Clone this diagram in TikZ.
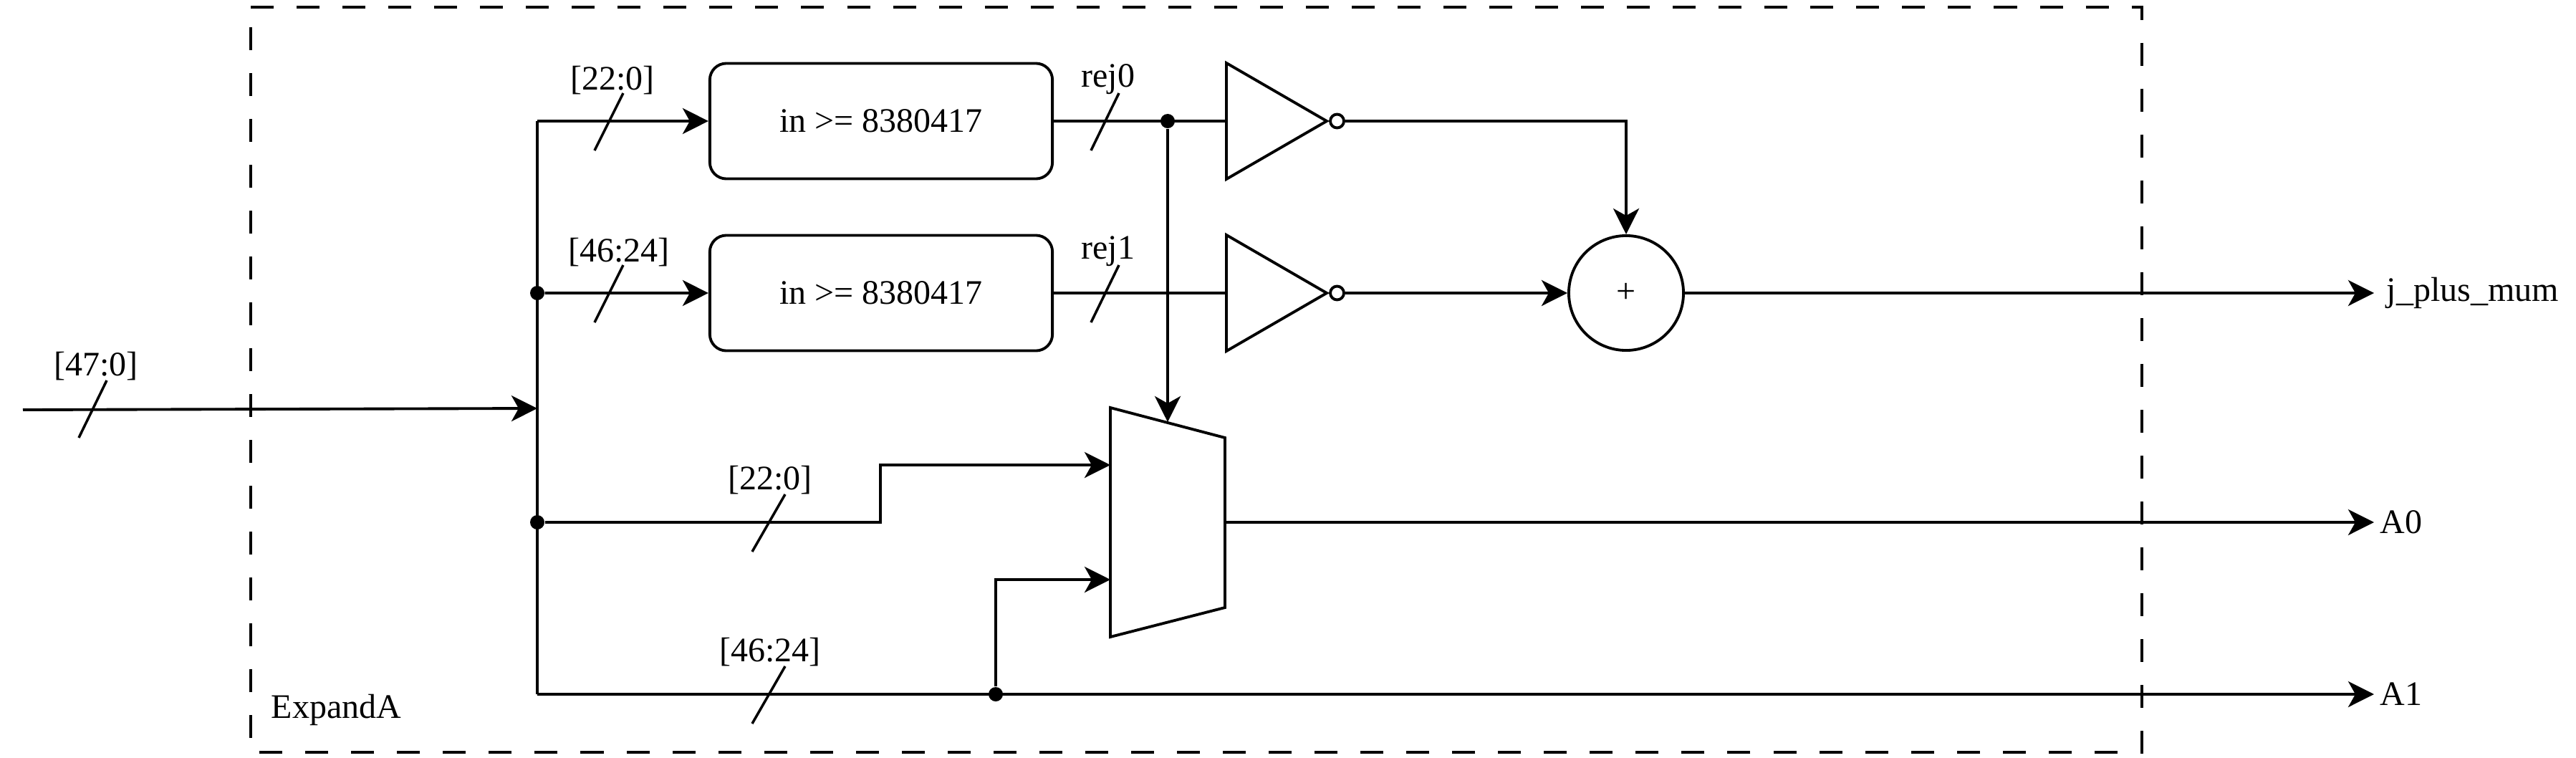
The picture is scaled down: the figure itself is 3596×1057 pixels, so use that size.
\documentclass[tikz,border=0pt]{standalone}
\usepackage{xcolor}
\usepackage{fontspec}
\setmainfont{Liberation Serif}
\usetikzlibrary{arrows.meta,positioning,shapes.geometric}

\tikzset{
  wire/.style={line width=1.1pt},
  bus/.style={wire,-{Stealth[length=0.36cm,width=0.36cm,inset=0.1cm]}},
  tick/.style={line width=1pt},
  frame/.style={line width=1.1pt,dash pattern=on 0.32cm off 0.32cm},
  cmpbox/.style={draw,wire,rounded corners=0.23cm,minimum width=4.78cm,minimum height=1.61cm,inner sep=0pt},
  inverter/.style={draw,wire,isosceles triangle,isosceles triangle stretches,
    minimum width=1.62cm,minimum height=1.4cm,inner sep=0pt,anchor=lower side},
  bubble/.style={draw,wire,circle,minimum size=0.19cm,inner sep=0pt},
  junction/.style={fill,circle,minimum size=0.2cm,inner sep=0pt},
  adder/.style={draw,wire,circle,minimum size=1.6cm,inner sep=0pt},
  signal/.style={inner sep=0pt}
}

\begin{document}
\begin{tikzpicture}
      [ x=0.01cm, y=-0.01cm,
        font=\fontsize{13.65}{16}\selectfont
      ]
      \useasboundingbox (0,0) rectangle (3596,1057);

      % dashed block outline
      \coordinate (frA) at (350,10);
      \coordinate (frB) at (2990,10);
      \coordinate (frC) at (2990,1050);
      \coordinate (frD) at (350,1050);
      \draw[frame] (frA) -- (frB) -- (frC) -- (frD) -- cycle;
      \node[signal,anchor=west] (expand) at (378,991) {ExpandA};

      % blocks
      \node[cmpbox]  (cmp0) at (1230,169)     {in >= 8380417};
      \node[cmpbox]  (cmp1) [below=0.75cm of cmp0] {in >= 8380417};
      \node[inverter] (inv0) at (1710,169)    {};
      \node[inverter] (inv1) at (1710,409)    {};
      \node[bubble]  (bub0) [right=-0.02cm of inv0.apex] {};
      \node[bubble]  (bub1) [right=-0.02cm of inv1.apex] {};
      \node[adder]   (add)  at (2270,409)     {+};

      % mux
      \coordinate (muxA) at (1550,569);
      \coordinate (muxB) at (1710,611);
      \coordinate (muxC) at (1710,848);
      \coordinate (muxD) at (1550,889);
      \coordinate (muxsel) at (1630,589);
      \coordinate (muxin0) at (1550,649);
      \coordinate (muxin1) at (1550,809);
      \coordinate (muxout) at (1710,729);
      \draw[wire] (muxA) -- (muxB) -- (muxC) -- (muxD) -- cycle;

      % junction dots
      \node[junction] (dj0) at (1630,169) {};
      \node[junction] (dt1) at (750,409)  {};
      \node[junction] (dt2) at (750,729)  {};
      \node[junction] (dt3) at (1390,969) {};

      % free ends
      \coordinate (in)   at (32,572);
      \coordinate (trunk) at (750,570);
      \coordinate (top)  at (750,169);
      \coordinate (low)  at (750,969);
      \coordinate (outj) at (3314,409);
      \coordinate (outa) at (3314,729);
      \coordinate (outb) at (3314,969);
      \coordinate (bend) at (1229,729);

      % wires
      \draw[wire] (top) -- (low);
      \draw[bus]  (in) -- (trunk);
      \draw[bus]  (top) -- (cmp0);
      \draw[bus]  (dt1) -- (cmp1);
      \draw[wire] (cmp0) -- (inv0.lower side);
      \draw[wire] (cmp1) -- (inv1.lower side);
      \draw[bus]  (bub0) -| (add);
      \draw[bus]  (bub1) -- (add);
      \draw[bus]  (add) -- (outj);
      \draw[bus]  (dj0) -- (muxsel);
      \draw[bus]  (dt2) -- (bend) |- (muxin0);
      \draw[bus]  (dt3) |- (muxin1);
      \draw[bus]  (muxout) -- (outa);
      \draw[bus]  (low) -- (outb);

      % bus width ticks
      \path (149,531) coordinate (tia) (110,611) coordinate (tib);
      \path (870,130) coordinate (t0a) (830,210) coordinate (t0b);
      \path (870,370) coordinate (t1a) (830,450) coordinate (t1b);
      \path (1562,130) coordinate (r0a) (1523,210) coordinate (r0b);
      \path (1562,370) coordinate (r1a) (1523,450) coordinate (r1b);
      \path (1096,690) coordinate (t2a) (1050,770) coordinate (t2b);
      \path (1096,930) coordinate (t3a) (1050,1010) coordinate (t3b);
      \draw[tick] (tia) -- (tib);
      \draw[tick] (t0a) -- (t0b);
      \draw[tick] (t1a) -- (t1b);
      \draw[tick] (r0a) -- (r0b);
      \draw[tick] (r1a) -- (r1b);
      \draw[tick] (t2a) -- (t2b);
      \draw[tick] (t3a) -- (t3b);

      % labels
      \node[signal] (lbin)  at (134,511)  {[47:0]};
      \node[signal] (lb0)   at (855,112)  {[22:0]};
      \node[signal] (lb1)   at (864,352)  {[46:24]};
      \node[signal] (lrej0) at (1547,111) {rej0};
      \node[signal] (lrej1) at (1547,351) {rej1};
      \node[signal] (lb2)   at (1075,670) {[22:0]};
      \node[signal] (lb3)   at (1075,910) {[46:24]};
      \node[signal] (lj) [right=0.17cm of outj] {j\_plus\_mum};
      \node[signal] (la) [right=0.08cm of outa] {A0};
      \node[signal] (lc) [right=0.08cm of outb] {A1};
    \end{tikzpicture}
\end{document}
